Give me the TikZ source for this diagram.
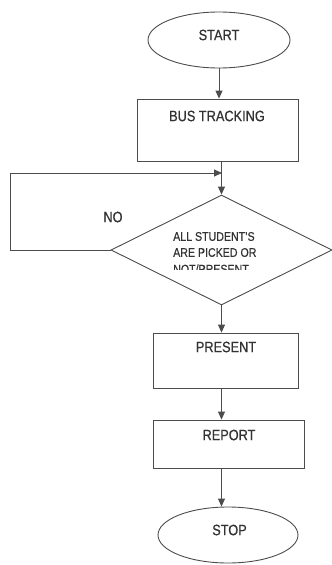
\documentclass[tikz,border=0pt]{standalone}
\usepackage{fontspec}
\setmainfont[FakeStretch=0.85,FakeBold=0.6]{Liberation Sans}
\usetikzlibrary{shapes.geometric,arrows.meta}
\begin{document}
\begin{tikzpicture}[x=1pt,y=-1pt,
  line/.style={draw=black!70, line width=0.9pt},
  arr/.style={line, -{Triangle[length=8pt,width=7pt]}},
  term/.style={line, ellipse, inner sep=0pt},
  proc/.style={line, rectangle, inner sep=0pt},
  dec/.style={line, diamond, inner sep=0pt, aspect=2},
  txt/.style={font=\fontsize{15}{17}\selectfont, text=black!80, inner sep=0pt},
  dtxt/.style={font=\fontsize{12.5}{16}\selectfont, text=black!80, inner sep=0pt, align=left}]
\useasboundingbox (0,0) rectangle (332,565);
\fill[white] (0,0) rectangle (332,565);
% shapes
\node[term, minimum width=142pt, minimum height=56pt] (start) at (219,40) {};
\node[proc, minimum width=161pt, minimum height=62pt] (bus) at (217.5,130) {};
\node[dec, minimum width=221pt, minimum height=110pt] (dia) at (221.5,250) {};
\node[proc, minimum width=145pt, minimum height=55pt] (present) at (225.5,360.5) {};
\node[proc, minimum width=151pt, minimum height=48pt] (report) at (228.5,444) {};
\node[term, minimum width=140pt, minimum height=56pt] (stop) at (228,535) {};
% texts
\node[txt] (tstart) at (219,35) {START};
\node[txt] (tbus) at (217,116) {BUS TRACKING};
\node[txt] (tpres) at (226,347) {PRESENT};
\node[txt] (trep) at (229,435) {REPORT};
\node[txt] (tstop) at (229.5,530) {STOP};
\node[txt] (tno) at (113,217) {NO};
\node[dtxt, anchor=west] (d1) at (173,236.5) {ALL STUDENT'S};
\node[dtxt, anchor=west] (d2) at (173,252.5) {ARE PICKED OR};
\begin{scope}
\clip (150,262) rectangle (300,269.5);
\node[dtxt, anchor=west] (d3) at (173,269) {NOT/PRESENT};
\end{scope}
% connectors
\coordinate (lp) at (10,173);
\coordinate (lj) at (222,173);
\draw[arr] (start.south) -- (start.south |- bus.north);
\draw[arr] (dia.north |- bus.south) -- (dia.north);
\draw[arr] (dia.west) -- (dia.west -| lp) -- (lp) -- (lj);
\draw[arr] (dia.south) -- (dia.south |- present.north);
\draw[arr] (present.south -| dia.south) -- (report.north -| dia.south);
\draw[arr] (report.south -| dia.south) -- (stop.north -| dia.south);
\end{tikzpicture}
\end{document}
